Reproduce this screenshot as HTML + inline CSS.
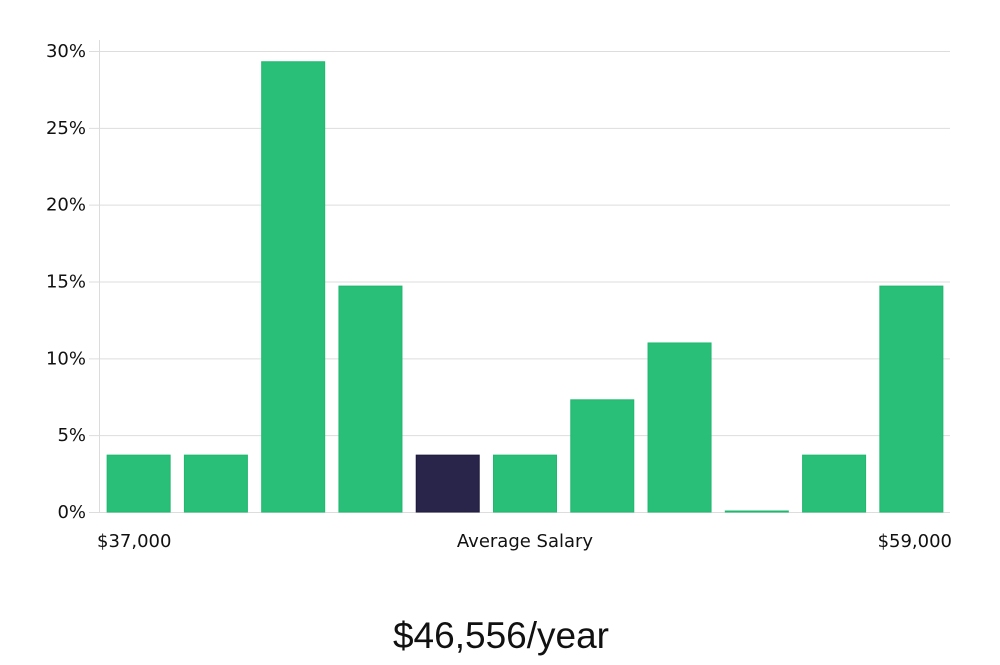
<!DOCTYPE html>
<html><head><meta charset="utf-8"><style>
body{margin:0;background:#fff;width:1000px;height:660px;overflow:hidden}
svg text{font-family:"DejaVu Sans","Liberation Sans",sans-serif}
</style></head><body>
<svg id="chart" width="1000" height="660" xmlns="http://www.w3.org/2000/svg">
<g id="grid"></g>
<g id="bars"></g>
<line x1="99.5" y1="40" x2="99.5" y2="512" stroke="#dcdcdc" stroke-width="1"/>
<text x="97" y="547" font-size="18" fill="#111">$37,000</text>
<text x="525" y="547" font-size="18" fill="#111" text-anchor="middle">Average Salary</text>
<text x="952" y="547" font-size="18" fill="#111" text-anchor="end">$59,000</text>
<text x="501" y="648" font-size="37" fill="#111" text-anchor="middle" style="font-family:'Liberation Sans',sans-serif;font-weight:300">$46,556/year</text>
</svg>
<script>
const values = [3.7, 3.7, 29.3, 14.7, 3.7, 3.7, 7.3, 11.0, 0.05, 3.7, 14.7];
const highlightIndex = 4;
const ticks = [0, 5, 10, 15, 20, 25, 30];
const tickLabels = ["0%", "5%", "10%", "15%", "20%", "25%", "30%"];
const X0 = 100, X1 = 950, Y0 = 512, Y30 = 51;
const y = v => Y0 - (v / 30) * (Y0 - Y30);
const band = (X1 - X0) / values.length;
const xc = i => X0 + band * (i + 0.5);
const NS = "http://www.w3.org/2000/svg";
const grid = document.getElementById("grid");
ticks.forEach((t, i) => {
  const ln = document.createElementNS(NS, "line");
  ln.setAttribute("x1", 89); ln.setAttribute("x2", X1);
  ln.setAttribute("y1", y(t) + 0.5); ln.setAttribute("y2", y(t) + 0.5);
  ln.setAttribute("stroke", "#dddddd"); ln.setAttribute("stroke-width", "1");
  
  
  grid.appendChild(ln);
  const tx = document.createElementNS(NS, "text");
  tx.setAttribute("x", 86); tx.setAttribute("y", y(t) + 6);
  tx.setAttribute("font-size", "18"); tx.setAttribute("fill", "#111");
  tx.setAttribute("text-anchor", "end");
  tx.textContent = tickLabels[i];
  
  
  grid.appendChild(tx);
});
const bars = document.getElementById("bars");
const bw = 63;
values.forEach((v, i) => {
  const r = document.createElementNS(NS, "rect");
  const top = Math.min(y(v), Y0 - 1);
  r.setAttribute("x", xc(i) - bw / 2); r.setAttribute("width", bw);
  r.setAttribute("y", top); r.setAttribute("height", Y0 - top);
  const hi = i === highlightIndex;
  r.setAttribute("fill", hi ? "#29254a" : "#2abf78");
  r.setAttribute("stroke", hi ? "#1e1a3c" : "#1fb86e");
  r.setAttribute("stroke-width", "1");
  
  
  bars.appendChild(r);
});
</script>
</body></html>
